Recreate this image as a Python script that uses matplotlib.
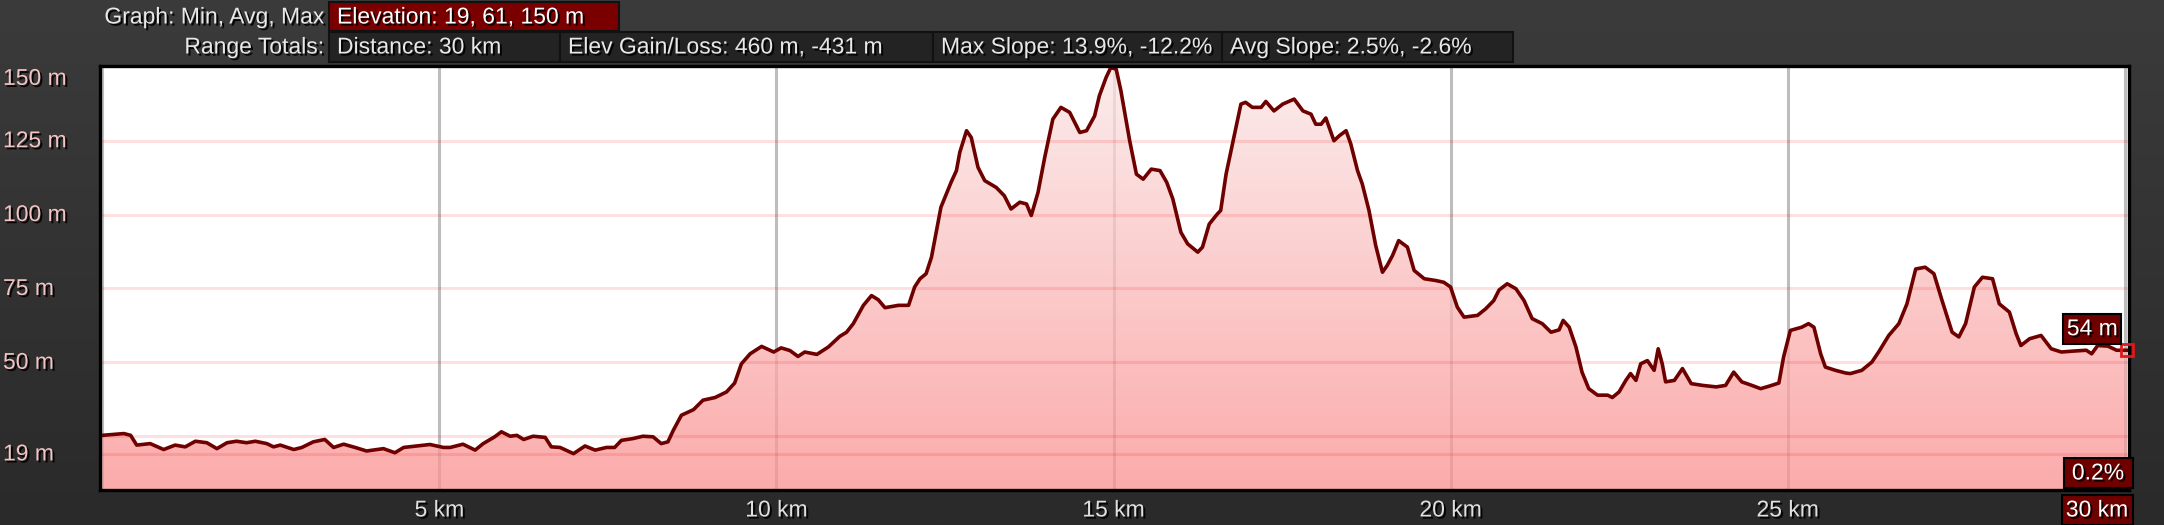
import numpy as np
import matplotlib
matplotlib.use("Agg")
import matplotlib.pyplot as plt
import matplotlib.patheffects as pe
from matplotlib.patches import Rectangle
from matplotlib.colors import LinearSegmentedColormap
from matplotlib.transforms import blended_transform_factory

plt.rcParams['font.family'] = ['Liberation Sans', 'DejaVu Sans']

# elevation profile (km, m)
dist_km = [0.00, 0.32, 0.42, 0.51, 0.71, 0.91, 1.08, 1.23, 1.38, 1.55, 1.70, 1.85, 1.99,
           2.14, 2.27, 2.44, 2.54, 2.64, 2.84, 2.96, 3.13, 3.30, 3.43, 3.58, 3.75, 3.92,
           4.17, 4.34, 4.47, 4.66, 4.86, 5.06, 5.16, 5.35, 5.53, 5.65, 5.82, 5.92, 6.05,
           6.15, 6.25, 6.39, 6.57, 6.66, 6.79, 6.99, 7.16, 7.31, 7.48, 7.60, 7.70, 7.87,
           8.02, 8.17, 8.29, 8.39, 8.47, 8.59, 8.77, 8.91, 9.09, 9.26, 9.38, 9.48, 9.61,
           9.78, 9.96, 10.07, 10.20, 10.32, 10.42, 10.60, 10.77, 10.94, 11.04, 11.14,
           11.29, 11.41, 11.51, 11.61, 11.81, 11.96, 12.05, 12.13, 12.22, 12.30, 12.44,
           12.59, 12.67, 12.72, 12.82, 12.89, 12.99, 13.09, 13.26, 13.38, 13.48, 13.61,
           13.71, 13.78, 13.88, 13.98, 14.10, 14.22, 14.35, 14.50, 14.60, 14.72, 14.79,
           14.89, 14.96, 15.04, 15.11, 15.24, 15.34, 15.44, 15.56, 15.69, 15.79, 15.88,
           16.00, 16.10, 16.25, 16.32, 16.42, 16.54, 16.59, 16.67, 16.77, 16.89, 16.96,
           17.06, 17.19, 17.26, 17.38, 17.51, 17.68, 17.81, 17.93, 18.00, 18.08, 18.15,
           18.27, 18.35, 18.45, 18.52, 18.62, 18.69, 18.79, 18.89, 18.99, 19.06, 19.14,
           19.23, 19.36, 19.46, 19.61, 19.78, 19.90, 20.00, 20.10, 20.20, 20.40, 20.52,
           20.64, 20.72, 20.84, 20.97, 21.09, 21.21, 21.36, 21.49, 21.61, 21.67, 21.76,
           21.86, 21.95, 22.05, 22.18, 22.33, 22.40, 22.50, 22.60, 22.67, 22.75, 22.82,
           22.92, 23.02, 23.08, 23.14, 23.19, 23.32, 23.44, 23.57, 23.74, 23.94, 24.08,
           24.20, 24.32, 24.47, 24.60, 24.72, 24.87, 24.94, 25.04, 25.21, 25.31, 25.39,
           25.49, 25.56, 25.71, 25.86, 25.93, 26.10, 26.25, 26.35, 26.50, 26.65, 26.77,
           26.90, 27.04, 27.17, 27.29, 27.44, 27.54, 27.64, 27.77, 27.89, 28.04, 28.14,
           28.29, 28.39, 28.46, 28.59, 28.76, 28.91, 29.06, 29.23, 29.43, 29.51, 29.60,
           29.75, 29.88, 30.03]
elev_m = [25.3, 25.9, 25.3, 22.0, 22.5, 20.5, 22.0, 21.4, 23.3, 22.8, 20.8, 22.8, 23.3,
          22.8, 23.3, 22.5, 21.4, 22.0, 20.5, 21.2, 23.1, 23.9, 21.2, 22.3, 21.2, 20.0,
          20.8, 19.4, 21.2, 21.7, 22.2, 21.2, 21.2, 22.3, 20.3, 22.5, 24.8, 26.5, 25.0,
          25.3, 23.9, 25.0, 24.6, 21.4, 21.2, 19.1, 21.7, 20.3, 21.2, 21.2, 23.6, 24.2,
          25.0, 24.8, 22.5, 23.1, 27.0, 32.1, 34.0, 37.2, 38.1, 40.0, 43.0, 49.5, 52.9,
          55.4, 53.5, 54.9, 54.0, 52.0, 53.5, 52.7, 55.2, 58.8, 60.2, 63.1,
          69.3, 72.6, 71.2, 68.5, 69.3, 69.3, 75.5, 78.3, 80.0, 85.6, 102.5,
          110.9, 114.9, 121.1, 128.4, 126.1, 116.0, 111.5, 109.2, 106.4, 101.9, 104.2,
          103.6, 99.7, 107.5, 119.4, 132.3, 136.3, 134.6, 127.8, 128.4, 133.4, 140.2,
          146.4, 149.8, 149.2, 141.9, 125.0, 113.7, 112.0, 115.4, 114.9, 110.9, 105.3,
          94.0, 90.1, 87.3, 89.0, 96.8, 100.2, 101.4, 113.7, 124.4, 137.4, 138.0,
          136.3, 136.3, 138.3, 135.1, 137.4, 139.1, 135.1, 134.0, 130.6, 130.6, 132.7,
          125.0, 126.7, 128.4, 123.9, 114.9, 110.4, 101.4, 89.5, 80.5, 82.8, 86.2,
          91.2, 89.0, 81.1, 78.3, 77.7, 77.1, 75.5, 68.7, 65.3, 65.9, 68.1,
          70.9, 74.5, 76.6, 74.9, 70.9, 64.8, 63.1, 60.2, 61.0, 64.2, 61.9,
          55.2, 46.7, 41.1, 38.9, 38.9, 38.1, 40.0, 43.9, 46.2, 43.9, 49.5,
          50.6, 47.3, 54.6, 49.5, 43.4, 43.9, 47.9, 42.8, 42.2, 41.7, 42.2,
          46.7, 43.4, 42.2, 41.1, 41.9, 43.0, 51.8, 60.8, 61.9, 63.1, 61.9,
          52.9, 48.4, 47.3, 46.4, 46.2, 47.3, 50.1, 53.5, 59.1, 63.1, 69.8,
          81.6, 82.2, 80.0, 71.0, 60.2, 58.6, 63.1, 75.5, 78.8, 78.3, 69.8,
          67.0, 59.7, 55.7, 58.0, 59.1, 54.6, 53.5, 53.8, 54.1, 52.9, 55.7,
          55.5, 54.1, 54.1]

x_grid = [0, 5, 10, 15, 20, 25, 30]
x_ticks = [5, 10, 15, 20, 25]
x_labels = ['5 km', '10 km', '15 km', '20 km', '25 km']
y_grid = [19, 25, 50, 75, 100, 125]
y_ticks = [19, 50, 75, 100, 125, 150]
y_labels = ['19 m', '50 m', '75 m', '100 m', '125 m', '150 m']

header_titles = ['Graph: Min, Avg, Max', 'Range Totals:']
header_elev = 'Elevation: 19, 61, 150 m'
header_totals = ['Distance: 30 km', 'Elev Gain/Loss: 460 m, -431 m',
                 'Max Slope: 13.9%, -12.2%', 'Avg Slope: 2.5%, -2.6%']
end_slope = '0.2%'
end_dist = '30 km'

W, H = 2164, 525
FS = 16.5
DARKRED = '#6e0000'
shadow = [pe.withSimplePatchShadow(offset=(1.5, -1.5), shadow_rgbFace='black', alpha=0.9)]

fig = plt.figure(figsize=(W / 100, H / 100), dpi=100)

# background gradient
bg = fig.add_axes([0, 0, 1, 1], zorder=-10)
bg_cmap = LinearSegmentedColormap.from_list('bg', ['#3b3b3b', '#2a2a2a'])
bg.imshow(np.linspace(0, 1, 256).reshape(-1, 1), cmap=bg_cmap, aspect='auto',
          extent=[0, 1, 0, 1], origin='upper')
bg.axis('off')

# main plot
ymin, ymax = 6.8, 150.3
xmax = 30.07
ax = fig.add_axes([100.3 / W, 1 - 490 / H, (2129.4 - 100.3) / W, (490 - 66) / H])
ax.set_xlim(-0.03, xmax)
ax.set_ylim(ymin, ymax)
ax.set_facecolor('white')
ax.set_xticks([])
ax.set_yticks([])
for s in ax.spines.values():
    s.set_color('black')
    s.set_linewidth(2.4)
    s.set_zorder(10)

for k in x_grid:
    ax.axvline(k, color='#bdbdbd', lw=2.2, zorder=1)

poly = ax.fill_between(dist_km, elev_m, ymin, facecolor='none', edgecolor='none', zorder=2)
top_c = np.array([0.987, 0.905, 0.905])
bot_c = np.array([0.987, 0.565, 0.565])
t = np.linspace(0, 1, 256)[:, None]
grad = np.zeros((256, 1, 4))
grad[:, 0, :3] = top_c * (1 - t) + bot_c * t
grad[:, 0, 3] = 0.76
img = ax.imshow(grad, extent=[-0.03, xmax, ymin, ymax], origin='upper', aspect='auto',
                interpolation='bilinear', zorder=2)
img.set_clip_path(poly.get_paths()[0], transform=ax.transData)

for v in y_grid:
    ax.axhline(v, color=(1, 0, 0, 0.12), lw=2.2, zorder=3)

ax.plot(dist_km, elev_m, color=DARKRED, lw=2.6, zorder=4, solid_joinstyle='round')
ax.plot(dist_km[-1], elev_m[-1], 's', ms=9, mfc='none', mec='#e01818', mew=2,
        zorder=11, clip_on=False)
ax.annotate(f'{elev_m[-1]:.0f} m', xy=(dist_km[-1], elev_m[-1]), xytext=(-9, 10),
            textcoords='offset pixels', ha='right', va='bottom', color='white',
            fontsize=FS, zorder=12, path_effects=shadow,
            bbox=dict(boxstyle='square,pad=0.15', fc=DARKRED, ec='black', lw=1.5))

# axis labels
ytr = blended_transform_factory(fig.transFigure, ax.transData)
for v, lab in zip(y_ticks, y_labels):
    ax.text(3 / W, v, lab, ha='left', va='top' if v == 150 else 'center',
            color='#f3c4c4', fontsize=FS, transform=ytr, path_effects=shadow)
xtr = blended_transform_factory(ax.transData, fig.transFigure)
for k, lab in zip(x_ticks, x_labels):
    ax.text(k, 1 - 510 / H, lab, ha='center', va='center', color='#e0e0e0',
            fontsize=FS, transform=xtr, path_effects=shadow)

# header and corner boxes in pixel coordinates
ov = fig.add_axes([0, 0, 1, 1], zorder=20)
ov.set_xlim(0, W)
ov.set_ylim(H, 0)
ov.axis('off')

ov.text(324, 17, header_titles[0], ha='right', va='center', color='#e8e8e8',
        fontsize=FS, path_effects=shadow)
ov.text(324, 47, header_titles[1], ha='right', va='center', color='#e8e8e8',
        fontsize=FS, path_effects=shadow)
ov.add_patch(Rectangle((329, 2), 290, 29, fc='#7a0000', ec='#111111', lw=1.5))
ov.text(337, 17, header_elev, ha='left', va='center', color='white', fontsize=FS,
        path_effects=shadow)
edges = [329, 560, 933, 1222, 1513]
for i, txt in enumerate(header_totals):
    ov.add_patch(Rectangle((edges[i], 32), edges[i + 1] - edges[i], 30,
                           fc='#232323', ec='#111111', lw=1.5))
    ov.text(edges[i] + 8, 47, txt, ha='left', va='center', color='#e8e8e8',
            fontsize=FS, path_effects=shadow)

ov.add_patch(Rectangle((2064, 458), 69, 30, fc=DARKRED, ec='black', lw=1.5, zorder=5))
ov.text(2098, 473, end_slope, ha='center', va='center', color='white', fontsize=FS,
        path_effects=shadow, zorder=6)
ov.add_patch(Rectangle((2062, 495), 71, 30, fc=DARKRED, ec='black', lw=1.5, zorder=5))
ov.text(2097, 510, end_dist, ha='center', va='center', color='white', fontsize=FS,
        path_effects=shadow, zorder=6)

fig.savefig('out.png', dpi=100, facecolor='#333333')
